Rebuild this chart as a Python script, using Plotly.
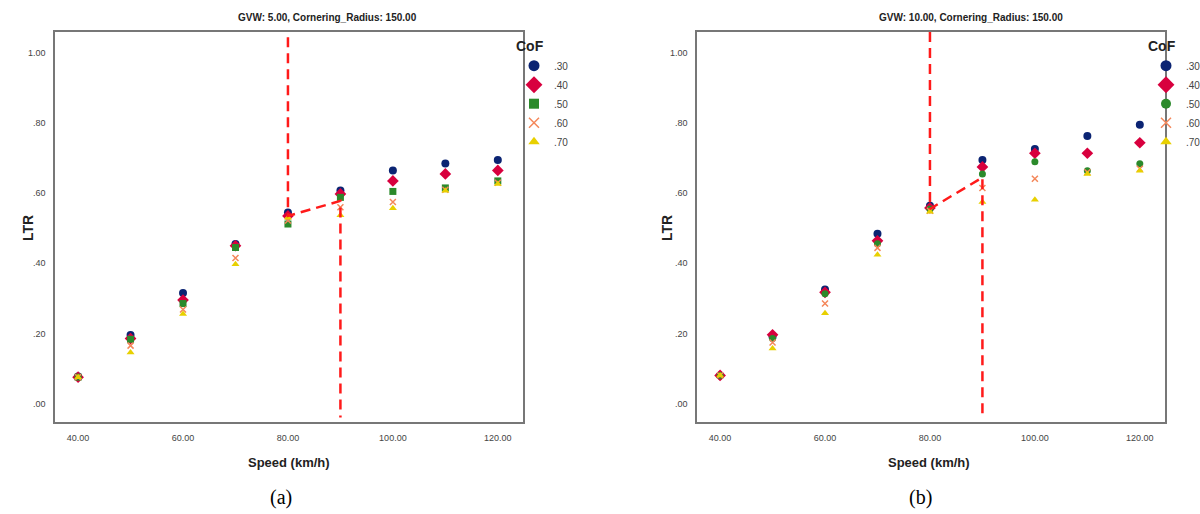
import plotly.graph_objects as go

# ---------------- data ----------------
speed = [40, 50, 60, 70, 80, 90, 100, 110, 120]
cof_labels = [".30", ".40", ".50", ".60", ".70"]

# panel (a): GVW 5.00
a_030 = [0.077, 0.195, 0.315, 0.455, 0.545, 0.608, 0.665, 0.685, 0.695]
a_040 = [0.075, 0.185, 0.295, 0.450, 0.535, 0.598, 0.635, 0.655, 0.665]
a_050 = [0.075, 0.183, 0.285, 0.445, 0.512, 0.588, 0.605, 0.615, 0.635]
a_060 = [0.075, 0.165, 0.268, 0.415, 0.522, 0.560, 0.575, 0.610, 0.630]
a_070 = [0.075, 0.145, 0.255, 0.397, 0.530, 0.537, 0.557, 0.607, 0.626]

# panel (b): GVW 10.00
b_030 = [0.080, 0.190, 0.325, 0.484, 0.564, 0.695, 0.726, 0.763, 0.795]
b_040 = [0.080, 0.196, 0.317, 0.464, 0.558, 0.675, 0.714, 0.714, 0.744]
b_050 = [0.080, 0.185, 0.313, 0.456, 0.555, 0.655, 0.690, 0.664, 0.684]
b_060 = [0.080, 0.174, 0.285, 0.444, 0.550, 0.615, 0.641, 0.660, 0.670]
b_070 = [0.080, 0.157, 0.257, 0.424, 0.547, 0.575, 0.581, 0.655, 0.664]

# red dashed guide polylines
guide_a_x = [80, 80, 90, 90]
guide_a_y = [1.045, 0.535, 0.578, -0.04]
guide_b_x = [80, 80, 90, 90]
guide_b_y = [1.06, 0.555, 0.645, -0.04]

x_ticks = [40, 60, 80, 100, 120]
x_ticktext = ["40.00", "60.00", "80.00", "100.00", "120.00"]
y_ticks = [0, 0.2, 0.4, 0.6, 0.8, 1.0]
y_ticktext = [".00", ".20", ".40", ".60", ".80", "1.00"]

titles = ["GVW: 5.00, Cornering_Radius: 150.00", "GVW: 10.00, Cornering_Radius: 150.00"]

# ---------------- styles ----------------
W, H = 1200, 514
colors = ["#0b2473", "#d8003e", "#2b8a2b", "#f4875a", "#e8d000"]
sym_a = ["circle", "diamond", "square", "x-thin-open", "triangle-up"]
sym_b = ["circle", "diamond", "circle", "x-thin-open", "triangle-up"]
plot_size = [8, 9, 7, 6, 7]
leg_size = [11, 13, 10, 10, 10]
FONT = "Liberation Sans Narrow, Liberation Sans, Arial, sans-serif"

def px(x):
    return x / W

def py(y):
    return 1 - y / H

fig = go.Figure()

panels = [
    ("x", "y", "legend", [a_030, a_040, a_050, a_060, a_070], sym_a, guide_a_x, guide_a_y),
    ("x2", "y2", "legend2", [b_030, b_040, b_050, b_060, b_070], sym_b, guide_b_x, guide_b_y),
]

for xa, ya, lg, series, syms, gx, gy in panels:
    for i, vals in enumerate(series):
        mk = dict(symbol=syms[i], size=plot_size[i], color=colors[i])
        if "x-thin" in syms[i]:
            mk["line"] = dict(color=colors[i], width=1.5)
        fig.add_trace(go.Scatter(
            x=speed, y=vals, mode="markers", marker=mk, xaxis=xa, yaxis=ya,
            showlegend=False, name=cof_labels[i]))
    # guide line
    fig.add_trace(go.Scatter(
        x=gx, y=gy, mode="lines", xaxis=xa, yaxis=ya, showlegend=False,
        line=dict(color="#ff1a1a", width=2.5, dash="10px,6px"), hoverinfo="skip"))
    # legend entries
    for i in range(5):
        mk = dict(symbol=syms[i], size=leg_size[i], color=colors[i])
        if "x-thin" in syms[i]:
            mk["line"] = dict(color=colors[i], width=1.5)
        fig.add_trace(go.Scatter(
            x=[None], y=[None], mode="markers", marker=mk, xaxis=xa, yaxis=ya,
            name=cof_labels[i], legend=lg, showlegend=True))

axis_common = dict(
    showgrid=False, zeroline=False, showline=True, mirror=True,
    linecolor="#777777", linewidth=1.5, ticks="",
    tickfont=dict(family=FONT, size=9, color="#444444"),
)

y_dom = [py(422), py(32)]
leg_common = dict(xanchor="left", yanchor="top", bgcolor="rgba(0,0,0,0)", borderwidth=0,
                  itemwidth=30, tracegroupgap=0,
                  title=dict(text="<b>CoF</b>", font=dict(family="Liberation Sans, Arial", size=14, color="#222")),
                  font=dict(family=FONT, size=10, color="#444"))
fig.update_layout(
    width=W, height=H,
    margin=dict(l=0, r=0, t=0, b=0, autoexpand=False),
    paper_bgcolor="white", plot_bgcolor="white",
    xaxis=dict(domain=[px(55), px(523)], range=[35.6, 124.8], anchor="y",
               tickvals=x_ticks, ticktext=x_ticktext, ticklabelstandoff=6, **axis_common),
    yaxis=dict(domain=y_dom, range=[-0.053, 1.06], anchor="x",
               tickvals=y_ticks, ticktext=y_ticktext, ticklabelstandoff=6, **axis_common),
    xaxis2=dict(domain=[px(697), px(1165)], range=[35.6, 124.8], anchor="y2",
                tickvals=x_ticks, ticktext=x_ticktext, ticklabelstandoff=6, **axis_common),
    yaxis2=dict(domain=y_dom, range=[-0.053, 1.06], anchor="x2",
                tickvals=y_ticks, ticktext=y_ticktext, ticklabelstandoff=6, **axis_common),
    legend=dict(x=px(514), y=py(33), **leg_common),
    legend2=dict(x=px(1146), y=py(33), **leg_common),
    showlegend=True,
)

ann = []
def add_text(cx, cy, text, font, angle=0):
    ann.append(dict(x=px(cx), y=py(cy), xref="paper", yref="paper", text=text,
                    xanchor="center", yanchor="middle", textangle=angle,
                    showarrow=False, font=font))

for cx, t in zip([327, 971], titles):
    add_text(cx, 18, f"<b>{t}</b>", dict(family=FONT, size=10, color="#222"))
for cx in [289, 929]:
    add_text(cx, 462, "<b>Speed (km/h)</b>", dict(family="Liberation Sans, Arial", size=13, color="#222"))
for cx in [28, 667]:
    add_text(cx, 228, "<b>LTR</b>", dict(family="Liberation Sans, Arial", size=14, color="#222"), angle=-90)
for cx, t in zip([281, 920], ["(a)", "(b)"]):
    add_text(cx, 497, t, dict(family="Liberation Serif, Times New Roman, serif", size=20, color="#000"))
fig.update_layout(annotations=ann)

fig.write_html("out.html", config={"displayModeBar": False},
               post_script="document.body.style.margin='0';document.body.style.overflow='hidden';")
